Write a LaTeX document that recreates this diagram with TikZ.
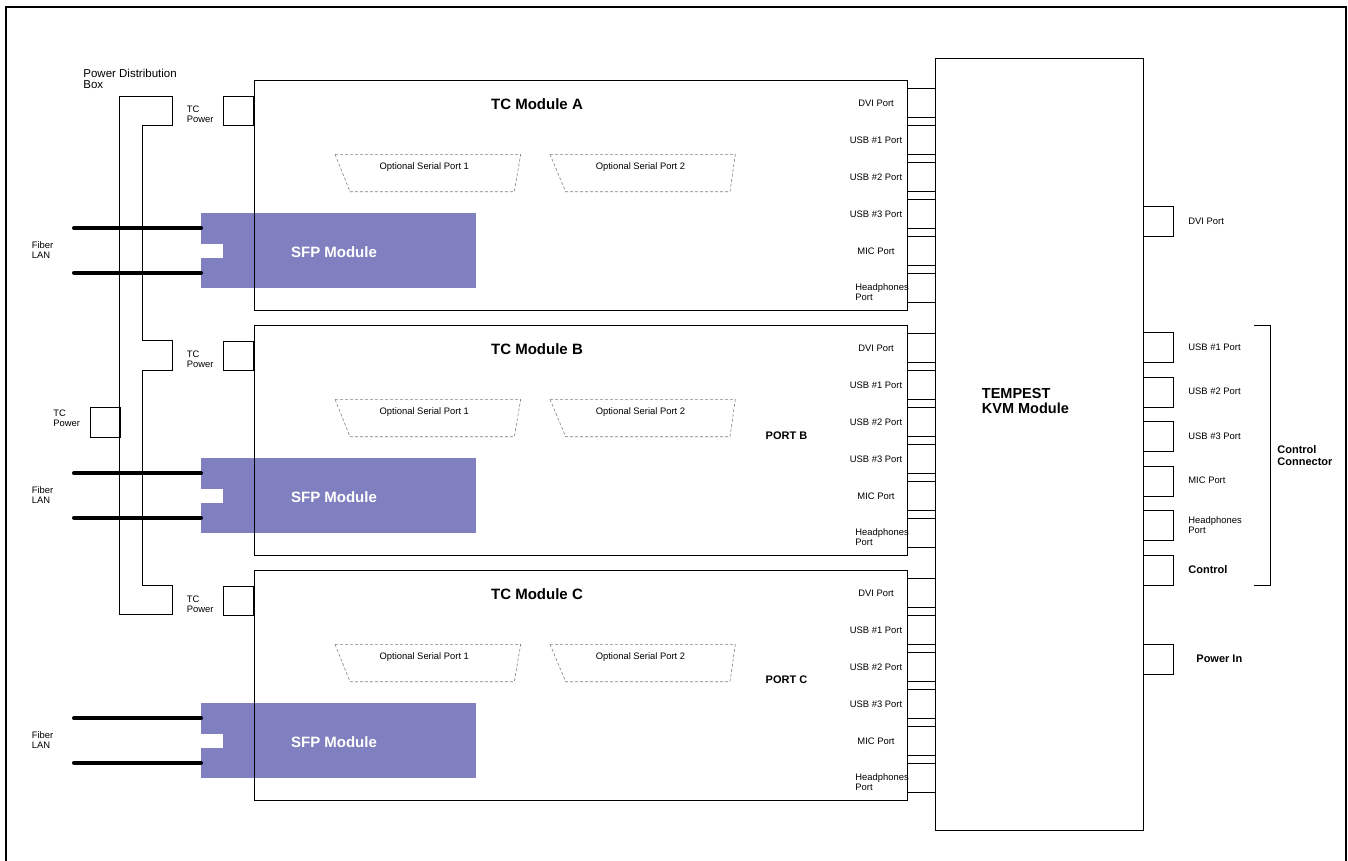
\documentclass[tikz,border=0pt]{standalone}
\usepackage{fontspec}
\setmainfont{Liberation Sans}
\definecolor{sfpblue}{RGB}{128,128,192}
\begin{document}
\begin{tikzpicture}[x=1pt, y=-1pt, line width=0.8pt,
    modbox/.style={draw, minimum width=653pt, minimum height=230pt, inner sep=0pt, anchor=north west},
    portbox/.style={draw, minimum width=28pt, minimum height=29pt, inner sep=0pt, anchor=north west},
    sidebox/.style={draw, minimum width=30pt, minimum height=30pt, inner sep=0pt, anchor=north west},
    sfpbox/.style={fill=sfpblue, minimum width=275pt, minimum height=75pt, inner sep=0pt, anchor=north west},
    smalltext/.style={font=\fontsize{9.4}{10}\selectfont, align=left, inner sep=0pt},
    boldtext/.style={font=\fontsize{11}{11.5}\selectfont\bfseries, align=left, inner sep=0pt},
    titletext/.style={font=\fontsize{15}{16}\selectfont\bfseries, inner sep=0pt},
    serialport/.style={draw=gray, densely dashed, line width=0.6pt},
    fiber/.style={line width=4pt, line cap=round}]

  \useasboundingbox (0,0) rectangle (1348,860);
  \draw[line width=1.6pt] (6,866) -- (6,7) -- (1346,7) -- (1346,866);

  % power distribution box
  \draw (119,96) -- (172,96) -- (172,125) -- (142,125) -- (142,340) -- (172,340) -- (172,370)
    -- (142,370) -- (142,585) -- (172,585) -- (172,614) -- (119,614) -- cycle;
  \node[smalltext, font=\fontsize{11.5}{11}\selectfont, anchor=west] (pdblabel) at (83,79) {Power Distribution\\Box};
  \node[sidebox] (pdbpower) at (90,407) {};
  \node[smalltext, anchor=west] (pdbpowerlabel) at (53,418) {TC\\Power};

  % TC modules
  \foreach \mname/\ytop in {A/80,B/325,C/570} {
    \node[sfpbox] (sfp\mname) at (201,\ytop+133) {};
    \fill[white] (200,\ytop+164) rectangle (223,\ytop+178);
    \node[titletext, text=white] (sfplabel\mname) at (334,\ytop+172) {SFP Module};
    \coordinate (fibtop\mname) at (74,\ytop+148.3);
    \coordinate (fibbot\mname) at (74,\ytop+192.7);
    \draw[fiber] (fibtop\mname) -- (fibtop\mname -| sfp\mname.west);
    \draw[fiber] (fibbot\mname) -- (fibbot\mname -| sfp\mname.west);
    \node[smalltext, anchor=west] (fiblabel\mname) at (31.5,\ytop+170) {Fiber\\LAN};

    \node[modbox] (mod\mname) at (254,\ytop) {};
    \node[titletext] (modlabel\mname) at (537,\ytop+24) {TC Module \mname};
    \node[sidebox, minimum height=29pt] (tcp\mname) at (223,\ytop+16) {};
    \node[smalltext, anchor=west] (tcplabel\mname) at (186.5,\ytop+34) {TC\\Power};

    % optional serial ports
    \draw[serialport] (335,\ytop+74.3) -- (520.7,\ytop+74.3) -- (514.3,\ytop+111.7) -- (350,\ytop+111.7) -- cycle;
    \node[smalltext] (serone\mname) at (424.3,\ytop+87.3) {Optional Serial Port 1};
    \draw[serialport] (550,\ytop+74.3) -- (735.3,\ytop+74.3) -- (730,\ytop+111.7) -- (565.7,\ytop+111.7) -- cycle;
    \node[smalltext] (sertwo\mname) at (640.5,\ytop+87.3) {Optional Serial Port 2};

    % ports towards the KVM module
    \foreach \pname/\plabel [count=\i from 0] in {dvi/DVI Port,usbone/USB \#1 Port,usbtwo/USB \#2 Port,usbthree/USB \#3 Port,mic/MIC Port} {
      \node[portbox] (\pname\mname) at (907,\ytop+8.3+37*\i) {};
      \node[smalltext] (\pname label\mname) at (876,\ytop+23+37*\i) {\plabel};
    }
    \node[portbox] (hp\mname) at (907,\ytop+193.3) {};
    \node[smalltext, anchor=west] (hplabel\mname) at (855,\ytop+212) {Headphones\\Port};
  }
  \node[boldtext] (portb) at (786.5,436) {PORT B};
  \node[boldtext] (portc) at (786.5,680) {PORT C};

  % KVM module
  \node[draw, minimum width=208pt, minimum height=772pt, inner sep=0pt, anchor=north west] (kvm) at (935,58) {};
  \node[titletext, font=\fontsize{14.5}{15.7}\selectfont\bfseries, align=left, anchor=west] (kvmlabel) at (981.5,401) {TEMPEST\\KVM Module};
  \node[sidebox] (kdvi) at (1143,206) {};
  \node[smalltext, anchor=west] (kdvilabel) at (1188,221) {DVI Port};
  \foreach \pname/\plabel [count=\i from 0] in {kusbone/USB \#1 Port,kusbtwo/USB \#2 Port,kusbthree/USB \#3 Port,kmic/MIC Port,khp/{Headphones\\Port}} {
    \node[sidebox] (\pname) at (1143,332.3+44.5*\i) {};
    \node[smalltext, anchor=west] (\pname label) at (1188,347+44.5*\i) {\plabel};
  }
  \node[sidebox] (kctl) at (1143,555) {};
  \node[boldtext, anchor=west] (kctllabel) at (1188,570) {Control};
  \node[sidebox] (kpwr) at (1143,644) {};
  \node[boldtext, anchor=west] (kpwrlabel) at (1196,658.5) {Power In};

  % control connector bracket
  \draw (1254,325) -- (1270,325) -- (1270,585) -- (1254,585);
  \node[boldtext, anchor=west] (ctlconn) at (1277,455.5) {Control\\Connector};
\end{tikzpicture}
\end{document}
